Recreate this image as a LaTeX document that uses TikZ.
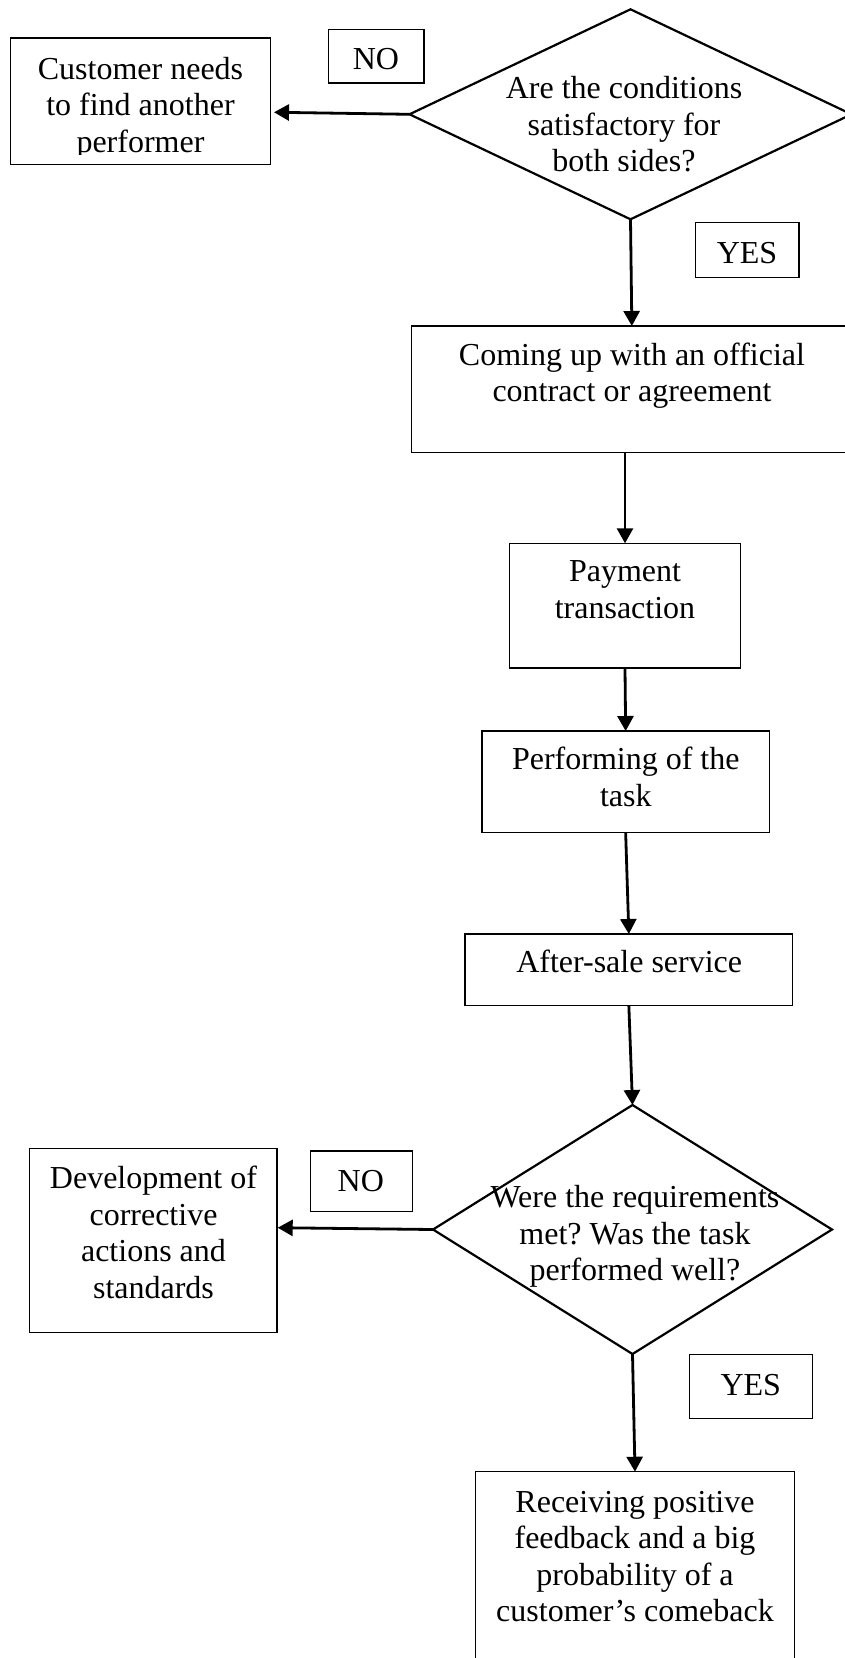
\documentclass[tikz,border=0pt]{standalone}
\usepackage{fontspec}
\setmainfont{Liberation Serif}
\usetikzlibrary{shapes.geometric,arrows.meta,calc}
\frenchspacing

\begin{document}
\begin{tikzpicture}[x=1pt,y=1pt,
  frame/.style={draw, line width=1.3pt, inner sep=0pt, outer sep=0pt, anchor=north west},
  decision/.style={draw, diamond, line width=2.2pt, inner sep=0pt, outer sep=0pt},
  % multi-line texts are placed by the baseline of their last line
  words/.style={inner sep=0pt, anchor=base, align=center, font=\fontsize{32}{36.5}\selectfont},
  flow/.style={line width=2.8pt, -{Triangle[length=15pt,width=16pt]}}
]
\useasboundingbox (0,0) rectangle (845,-1658);
\clip (0,0) rectangle (845,-1658);

% --- outlines of the steps ---
\node[frame, minimum width=259.6pt, minimum height=126.3pt] (cust) at (10.7,-38) {};
\node[frame, minimum width=95.5pt, minimum height=53.7pt] (no1) at (328.5,-29.3) {};
\node[decision, minimum width=442pt, minimum height=210pt] (d1) at (630.5,-114.3) {};
\node[frame, minimum width=103.7pt, minimum height=55.4pt] (yes1) at (695.3,-222.3) {};
\node[frame, minimum width=440.3pt, minimum height=126.7pt] (contract) at (411.7,-326) {};
\node[frame, minimum width=231.4pt, minimum height=124.7pt] (pay) at (509.3,-543.3) {};
\node[frame, minimum width=287.3pt, minimum height=101.7pt] (perf) at (482,-731) {};
\node[frame, minimum width=327.7pt, minimum height=71.7pt] (after) at (465,-934) {};
\node[decision, minimum width=399pt, minimum height=249pt] (d2) at (632.5,-1229.5) {};
\node[frame, minimum width=247.3pt, minimum height=184pt] (dev) at (29.7,-1148.7) {};
\node[frame, minimum width=102pt, minimum height=60.3pt] (no2) at (310.3,-1151) {};
\node[frame, minimum width=123.4pt, minimum height=64.4pt] (yes2) at (689.3,-1354.3) {};
\node[frame, minimum width=318.6pt, minimum height=200pt] (final) at (475.7,-1471.7) {};

% --- texts ---
\begin{scope}
  \clip (10.7,-38) rectangle (270.3,-154);
  \node[words] (custT) at (140.5,-152) {Customer needs\\to find another\\performer};
\end{scope}
\node[words] (no1T) at (376,-69.3) {NO};
\node[words] (d1T) at (624,-171.7) {Are the conditions\\satisfactory for\\both sides?};
\node[words] (yes1T) at (747,-263.3) {YES};
\node[words] (contractT) at (632,-401.7) {Coming up with an official\\contract or agreement};
\node[words] (payT) at (625,-618.3) {Payment\\transaction};
\node[words] (perfT) at (625.8,-806) {Performing of the\\task};
\node[words] (afterT) at (629.2,-972.7) {After-sale service};
\node[words] (d2T) at (635,-1280.7) {Were the requirements\\met? Was the task\\performed well?};
\node[words] (devT) at (153.5,-1298.3) {Development of\\corrective\\actions and\\standards};
\node[words] (no2T) at (360.8,-1191.7) {NO};
\node[words] (yes2T) at (750.8,-1395) {YES};
\node[words] (finalT) at (635,-1621.7) {Receiving positive\\feedback and a big\\probability of a\\customer’s comeback};

% --- connectors ---
\draw[flow] (d1.west) -- ($(cust.east)+(3.7,-11.1)$);
\draw[flow] (d1.south) -- (contract.north);
\draw[flow] (contract.south -| pay.north) -- (pay.north);
\draw[flow] (pay.south) -- (perf.north);
\draw[flow] (perf.south) -- (after.north);
\draw[flow] (after.south) -- (d2.north);
\draw[flow] (d2.west) -- ($(dev.east)+(0.7,13)$);
\draw[flow] (d2.south) -- (final.north);
\end{tikzpicture}
\end{document}
